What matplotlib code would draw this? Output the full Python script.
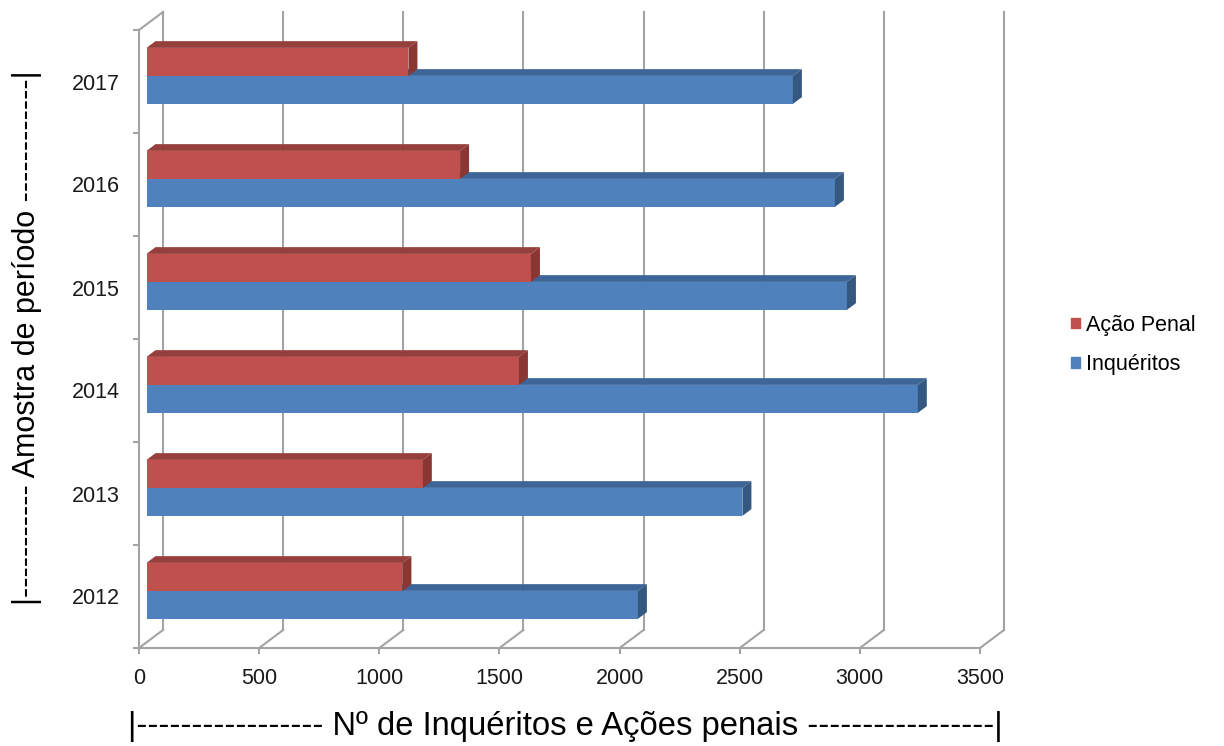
import matplotlib
matplotlib.use("Agg")
import matplotlib.pyplot as plt
from matplotlib.patches import Polygon, Patch

# dados
anos = ["2012", "2013", "2014", "2015", "2016", "2017"]
inqueritos = [2045, 2480, 3210, 2915, 2865, 2690]
acao_penal = [1065, 1150, 1550, 1600, 1305, 1090]
xticks = [0, 500, 1000, 1500, 2000, 2500, 3000, 3500]

cor_azul = ("#4F81BD", "#3D6597", "#34587F")   # frente, topo, lado
cor_verm = ("#C0504D", "#96403D", "#8A3734")
grade = "#A3A3A3"

plt.rcParams["font.family"] = ["Liberation Sans", "DejaVu Sans"]

fig = plt.figure(figsize=(12.24, 7.46), dpi=100)
ax = fig.add_axes([139 / 1224, 1 - 648 / 746, 841 / 1224, 618 / 746])
ax.set_xlim(0, 3500)
ax.set_ylim(-0.5, 5.5)

# escala pixel -> dados (para o efeito 3D)
px = 3500 / 841
py = 6 / 618

def pxy(dx, dy):
    return dx * px, dy * py

# profundidade do fundo e plano das barras
fdx, fdy = pxy(24, 18)
bdx, bdy = pxy(7.5, 5.6)
pdx, pdy = pxy(9, 6.75)

# grade: paredes e chão
for v in xticks:
    ax.plot([v + fdx, v + fdx], [-0.5 + fdy, 5.5 + fdy], color=grade, lw=1.5, zorder=1, clip_on=False)
    ax.plot([v, v + fdx], [-0.5, -0.5 + fdy], color=grade, lw=1.5, zorder=1, clip_on=False)
ax.plot([0, fdx], [5.5, 5.5 + fdy], color=grade, lw=1.5, zorder=1, clip_on=False)

ys = list(range(len(anos)))
h = 28 / 103


def barra(y0, val, cores):
    x0 = bdx
    yb = y0 + bdy
    ax.barh(yb, val, height=h, left=x0, align="edge", color=cores[0], zorder=3)
    topo = [(x0, yb + h), (x0 + val, yb + h), (x0 + val + pdx, yb + h + pdy), (x0 + pdx, yb + h + pdy)]
    lado = [(x0 + val, yb), (x0 + val + pdx, yb + pdy), (x0 + val + pdx, yb + h + pdy), (x0 + val, yb + h)]
    ax.add_patch(Polygon(topo, closed=True, color=cores[1], zorder=3, lw=0))
    ax.add_patch(Polygon(lado, closed=True, color=cores[2], zorder=3, lw=0))


for y, vi, va in zip(ys, inqueritos, acao_penal):
    barra(y - h, vi, cor_azul)
    barra(y, va, cor_verm)

# eixos
for s in ["top", "right"]:
    ax.spines[s].set_visible(False)
for s in ["left", "bottom"]:
    ax.spines[s].set_color(grade)
    ax.spines[s].set_linewidth(1.5)
ax.set_xticks(xticks)
ax.set_xticklabels([str(v) for v in xticks], fontsize=15.5, color="#1a1a1a")
ax.tick_params(axis="x", length=4.5, width=1.5, color=grade, pad=10)
ax.set_yticks(ys)
ax.set_yticklabels(anos, fontsize=15.5, color="#1a1a1a")
ax.set_yticks([y - 0.5 for y in range(len(anos) + 1)], minor=True)
ax.tick_params(axis="y", which="major", length=0, pad=14)
ax.tick_params(axis="y", which="minor", length=4.5, width=1.5, color=grade)

fig.text(565 / 1224, 1 - 727 / 746, "|" + "-" * 17 + " Nº de Inquéritos e Ações penais " + "-" * 17 + "|",
         ha="center", va="center", fontsize=23.6)
fig.text(27 / 1224, 1 - 338 / 746, "|" + "-" * 11 + " Amostra de período " + "-" * 12 + "|",
         ha="center", va="center", rotation=90, fontsize=22)

handles = [Patch(color=cor_verm[0], label="Ação Penal"), Patch(color=cor_azul[0], label="Inquéritos")]
fig.legend(handles=handles, loc="center left", bbox_to_anchor=(1052 / 1224, 1 - 345 / 746),
           frameon=False, fontsize=15.5, handlelength=0.38, handleheight=0.38,
           handletextpad=0.3, labelspacing=0.85)

fig.savefig("out.png", dpi=100)
